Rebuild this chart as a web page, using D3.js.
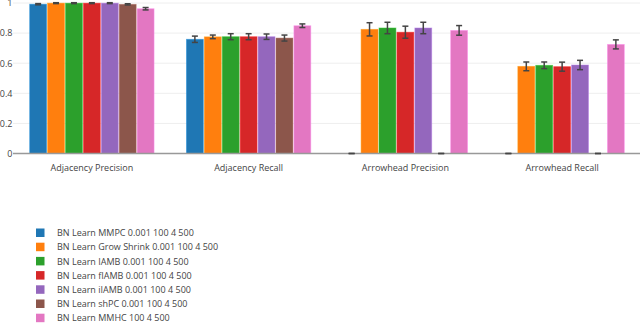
<!DOCTYPE html>
<html><head><meta charset="utf-8">
<script src="https://cdn.jsdelivr.net/npm/d3@7"></script>
<style>body{margin:0;background:#fff}svg{display:block}text{font-family:"Open Sans",sans-serif}</style>
</head><body><svg id="c" width="640" height="324"></svg>
<script>
const categories = ["Adjacency Precision","Adjacency Recall","Arrowhead Precision","Arrowhead Recall"];
const seriesNames = ["BN Learn MMPC 0.001 100 4 500","BN Learn Grow Shrink 0.001 100 4 500","BN Learn IAMB 0.001 100 4 500","BN Learn fIAMB 0.001 100 4 500","BN Learn iIAMB 0.001 100 4 500","BN Learn shPC 0.001 100 4 500","BN Learn MMHC 100 4 500"];
const colors = ["#1f77b4","#ff7f0e","#2ca02c","#d62728","#9467bd","#8c564b","#e377c2"];
const values = [
  [0.992, 0.759, 0, 0],
  [0.999, 0.775, 0.825, 0.579],
  [0.999, 0.776, 0.834, 0.586],
  [0.999, 0.776, 0.806, 0.577],
  [0.999, 0.776, 0.834, 0.588],
  [0.991, 0.767, 0, 0],
  [0.962, 0.849, 0.818, 0.725]
];
const errors = [
  [0.004, 0.021, 0, 0],
  [0.003, 0.012, 0.044, 0.029],
  [0.003, 0.02, 0.038, 0.022],
  [0.003, 0.02, 0.04, 0.03],
  [0.003, 0.018, 0.038, 0.031],
  [0.004, 0.02, 0, 0],
  [0.008, 0.012, 0.032, 0.03]
];
const yTicks = [0, 0.2, 0.4, 0.6, 0.8, 1];

const svg = d3.select("#c");
const x0 = d3.scaleBand().domain(categories).range([13.5, 640.5]).paddingInner(0.2).paddingOuter(0.1);
const x1 = d3.scaleBand().domain(d3.range(seriesNames.length)).range([0, x0.bandwidth()]);
const y = d3.scaleLinear().domain([0, 1]).range([153.5, 3]);

// gridlines
svg.append("g").selectAll("line").data(yTicks.filter(t => t > 0)).join("line")
  .attr("x1", 13).attr("x2", 640).attr("y1", d => y(d)).attr("y2", d => y(d))
  .attr("stroke", "#eee").attr("stroke-width", 1);

// y axis labels
const yAxis = d3.axisLeft(y).tickValues(yTicks).tickFormat(d => d3.format("~g")(d)).tickSize(0).tickPadding(0);
const ya = svg.append("g").attr("transform", "translate(12.5,0)").call(yAxis);
ya.select(".domain").remove();
ya.selectAll("text").attr("font-size", 9).attr("fill", "#444").attr("font-family", "Open Sans");

// bars
const groups = svg.append("g").selectAll("g").data(seriesNames).join("g");
groups.each(function(name, si) {
  const g = d3.select(this);
  categories.forEach((cat, ci) => {
    const v = values[si][ci];
    const bx = x0(cat) + x1(si);
    g.append("rect").attr("x", bx + 0.5).attr("y", y(v)).attr("width", x1.bandwidth() - 1)
      .attr("height", y(0) - y(v)).attr("fill", colors[si])
      .attr("stroke", d3.color(colors[si]).brighter(0.6)).attr("stroke-width", 0.8).attr("stroke-opacity", 0.6);
  });
});

// zero line
svg.append("line").attr("x1", 13).attr("x2", 640).attr("y1", y(0)).attr("y2", y(0)).attr("stroke", "#999").attr("stroke-width", 1.5);

// error bars
const eb = svg.append("g").attr("stroke", "#444").attr("stroke-width", 1.5);
seriesNames.forEach((name, si) => {
  categories.forEach((cat, ci) => {
    const v = values[si][ci], e = errors[si][ci];
    const cx = x0(cat) + x1(si) + x1.bandwidth() / 2;
    const ya0 = y(v + e), yb = y(v - e);
    eb.append("line").attr("x1", cx).attr("x2", cx).attr("y1", ya0).attr("y2", yb);
    eb.append("line").attr("x1", cx - 3).attr("x2", cx + 3).attr("y1", ya0).attr("y2", ya0);
    eb.append("line").attr("x1", cx - 3).attr("x2", cx + 3).attr("y1", yb).attr("y2", yb);
  });
});

// x labels
const xAxis = d3.axisBottom(x0).tickSize(0).tickPadding(0);
const xa = svg.append("g").attr("transform", "translate(0,164.5)").call(xAxis);
xa.select(".domain").remove();
xa.selectAll("text").attr("font-size", 9).attr("fill", "#444").attr("font-family", "Open Sans").attr("dy", "0.71em");

// legend
const leg = svg.append("g").selectAll("g").data(seriesNames).join("g")
  .attr("transform", (d, i) => `translate(36,${228.5 + i * 14.2})`);
leg.append("rect").attr("width", 8.5).attr("height", 8.5).attr("fill", (d, i) => colors[i]);
leg.append("text").attr("x", 21).attr("y", 4.5).attr("dy", "0.35em").attr("font-size", 9)
  .attr("fill", "#444").text(d => d);
</script></body></html>
